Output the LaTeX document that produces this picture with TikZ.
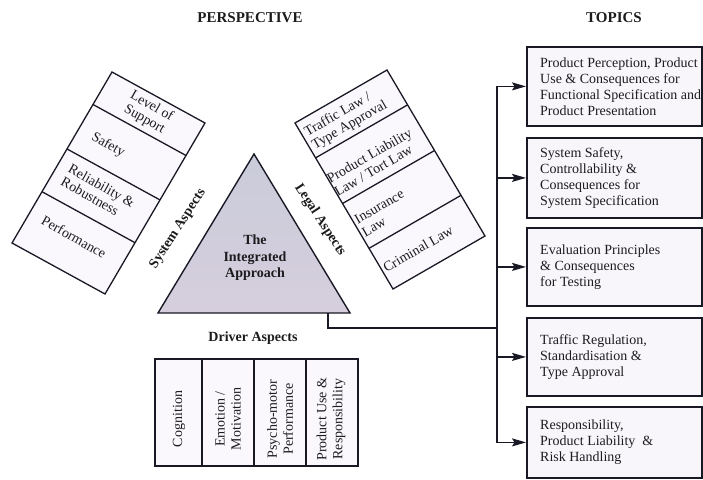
\documentclass[tikz,border=0pt]{standalone}
\usepackage{fontspec}
\setmainfont{Liberation Serif}
\usetikzlibrary{calc,arrows.meta}

\definecolor{inkline}{RGB}{25,25,38}
\definecolor{cellfill}{RGB}{250,248,252}
\definecolor{topicfill}{RGB}{248,246,251}
\definecolor{pyrtop}{RGB}{202,204,218}
\definecolor{pyrbot}{RGB}{214,206,221}
\definecolor{inktext}{RGB}{28,28,30}

\begin{document}
\begin{tikzpicture}[x=1pt,y=-1pt,
  every node/.style={font=\fontsize{14}{16}\selectfont, text=inktext},
  heading/.style={font=\fontsize{14}{16.5}\selectfont\bfseries},
  title/.style={font=\fontsize{15}{18}\selectfont\bfseries},
  cellline/.style={draw=inkline, line width=1.3pt},
  celltext/.style={align=left, inner sep=0pt},
  tightcell/.style={celltext, font=\fontsize{14}{15}\selectfont},
  topicbox/.style={draw=inkline, line width=1.8pt, fill=topicfill,
    minimum width=175pt, inner sep=0pt, anchor=north west},
  topictext/.style={align=left, anchor=west, inner sep=0pt},
  feed/.style={draw=inkline, line width=1.4pt},
  arrowfeed/.style={feed, -{Stealth[length=14pt,width=8pt,inset=2.5pt]}},
]
\fill[white] (0,0) rectangle (703,479);
\useasboundingbox (0,0) rectangle (703,479);

% ---- column titles
\node[title] (perspective) at (250,18) {PERSPECTIVE};
\node[title] (topics) at (614,18) {TOPICS};

% ---- system aspects block (tilted)
\coordinate (sysT) at (112,72);
\coordinate (sysR) at (205,123);
\coordinate (sysB) at (105,294);
\coordinate (sysL) at (12,243);
\filldraw[cellline, fill=cellfill] (sysT) -- (sysR) -- (sysB) -- (sysL) -- cycle;
\foreach \t in {0.19,0.45,0.70}
  \draw[cellline] ($(sysT)!\t!(sysL)$) -- ($(sysR)!\t!(sysB)$);
\node[tightcell, align=center, rotate=-29.5] (sys-support) at (148,113) {Level of\\Support};
\node[celltext, rotate=-29.5] (sys-safety) at (108,145) {Safety};
\node[tightcell, rotate=-29.5] (sys-reliab) at (98,192) {Reliability \&\\Robustness};
\node[celltext, rotate=-29.5] (sys-perf) at (74,237) {Performance};
\node[heading, rotate=57] (sys-label) at (178,229) {System Aspects};

% ---- legal aspects block (tilted)
\coordinate (legTL) at (295,123);
\coordinate (legTR) at (387,70);
\coordinate (legBR) at (485,236);
\coordinate (legBL) at (393,289);
\filldraw[cellline, fill=cellfill] (legTL) -- (legTR) -- (legBR) -- (legBL) -- cycle;
\foreach \t in {0.21,0.485,0.755}
  \draw[cellline] ($(legTL)!\t!(legBL)$) -- ($(legTR)!\t!(legBR)$);
\node[tightcell, rotate=30] (leg-traffic) at (346,119) {Traffic Law /\\Type Approval};
\node[tightcell, rotate=30] (leg-product) at (373,162) {Product Liability\\Law / Tort Law};
\node[tightcell, rotate=30] (leg-insur) at (383,213) {Insurance\\Law};
\node[celltext, rotate=30] (leg-crim) at (418,249) {Criminal Law};
\node[heading, rotate=-57] (leg-label) at (320,220) {Legal Aspects};

% ---- central pyramid
\coordinate (apex) at (254,154);
\coordinate (tri-l) at (158,313);
\coordinate (tri-r) at (350,313);
\shade[top color=pyrtop, bottom color=pyrbot] (apex) -- (tri-r) -- (tri-l) -- cycle;
\draw[draw=inkline, line width=1.4pt, line join=miter] (apex) -- (tri-r) -- (tri-l) -- cycle;
\node[heading, align=center] (core) at (255,258) {The\\Integrated\\Approach};

% ---- driver aspects block
\node[heading] (drv-label) at (253,338) {Driver Aspects};
\coordinate (drvNW) at (155,359);
\coordinate (drvSE) at (358,466);
\filldraw[cellline, fill=cellfill] (drvNW) rectangle (drvSE);
\foreach \x in {202,254,306}
  \draw[cellline] (\x,359) -- (\x,466);
\node[celltext, rotate=90] (drv-cog) at (179,419) {Cognition};
\node[celltext, align=center, rotate=90] (drv-emo) at (228,419) {Emotion /\\Motivation};
\node[celltext, align=center, rotate=90] (drv-psy) at (280,419) {Psycho-motor\\Performance};
\node[celltext, align=center, rotate=90] (drv-use) at (331,419) {Product Use \&\\Responsibility};

% ---- topic boxes
\node[topicbox, minimum height=79pt] (t1) at (526,46) {};
\node[topicbox, minimum height=80pt] (t2) at (526,137) {};
\node[topicbox, minimum height=78pt] (t3) at (526,227) {};
\node[topicbox, minimum height=78pt] (t4) at (526,317) {};
\node[topicbox, minimum height=71pt] (t5) at (526,406) {};

\node[topictext] (t1-text) at ([xshift=14pt]t1.west)
  {Product Perception, Product\\Use \& Consequences for\\Functional Specification and\\Product Presentation};
\node[topictext] (t2-text) at ([xshift=14pt]t2.west)
  {System Safety,\\Controllability \&\\Consequences for\\System Specification};
\node[topictext] (t3-text) at ([xshift=14pt]t3.west)
  {Evaluation Principles\\\& Consequences\\for Testing};
\node[topictext] (t4-text) at ([xshift=14pt]t4.west)
  {Traffic Regulation,\\Standardisation \&\\Type Approval};
\node[topictext] (t5-text) at ([xshift=14pt]t5.west)
  {Responsibility,\\Product Liability~ \&\\Risk Handling};

% ---- feed from the pyramid to the topics
\coordinate (tri-out) at (328,313);
\coordinate (bus) at (497,328);
\draw[feed] (tri-out) |- (bus);
\draw[arrowfeed] (bus) |- (t1.west);
\draw[arrowfeed] (bus) |- (t5.west);
\draw[arrowfeed] (bus |- t2.west) -- (t2.west);
\draw[arrowfeed] (bus |- t3.west) -- (t3.west);
\draw[arrowfeed] (bus |- t4.west) -- (t4.west);
\end{tikzpicture}
\end{document}
